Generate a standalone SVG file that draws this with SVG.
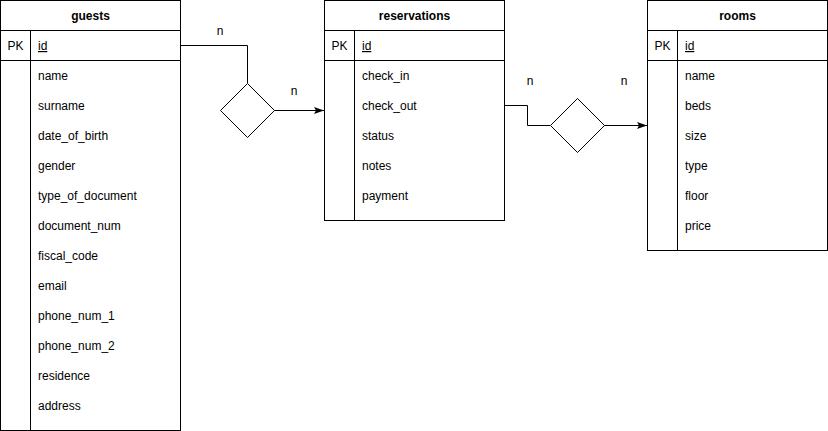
<svg xmlns="http://www.w3.org/2000/svg" width="828" height="431" viewBox="0 0 828 431">
<style>
.box{fill:#fff;stroke:#000;stroke-width:1}
.ln{stroke:#000;stroke-width:1;fill:none}
text{font-family:"Liberation Sans",Arial,sans-serif;font-size:12px;fill:#000}
.h{font-weight:bold;text-anchor:middle}
.pk{text-anchor:middle}
.id{text-decoration:underline}
.lbl{text-anchor:middle}
</style>
<defs>
<marker id="arr" viewBox="0 0 10 10" refX="10" refY="5" markerWidth="10" markerHeight="10" markerUnits="userSpaceOnUse" orient="auto">
<path d="M0,1.5 L10,5 L0,8.5 L2,5 Z" fill="#000"/>
</marker>
</defs>
<rect width="828" height="431" fill="#fff"/>
<g id="connectors">
<path class="ln" d="M180.5,45.5 H247.5 V83"/>
<path class="ln" d="M274,110.5 H324" marker-end="url(#arr)"/>
<path class="ln" d="M504.5,105.5 H527.5 V125.5 H550"/>
<path class="ln" d="M604,125.5 H647" marker-end="url(#arr)"/>
<text class="lbl" x="220" y="35">n</text>
<text class="lbl" x="294" y="95">n</text>
<text class="lbl" x="530" y="85">n</text>
<text class="lbl" x="624" y="85">n</text>
</g>
<g id="rel1">
<path class="box" d="M247.5,83.5 L274.5,110.5 L247.5,137.5 L220.5,110.5 Z"/>
</g>
<g id="rel2">
<path class="box" d="M577.5,98.5 L604.5,125.5 L577.5,152.5 L550.5,125.5 Z"/>
</g>
<g id="guests">
<rect class="box" x="0.5" y="0.5" width="180" height="430"/>
<path class="ln" d="M0.5,30.5 H180.5 M0.5,60.5 H180.5 M30.5,30.5 V430.5"/>
<text class="h" x="90.5" y="20">guests</text>
<text class="pk" x="15.5" y="50">PK</text>
<text class="id" x="38" y="50">id</text>
<text x="38" y="80">name</text>
<text x="38" y="110">surname</text>
<text x="38" y="140">date_of_birth</text>
<text x="38" y="170">gender</text>
<text x="38" y="200">type_of_document</text>
<text x="38" y="230">document_num</text>
<text x="38" y="260">fiscal_code</text>
<text x="38" y="290">email</text>
<text x="38" y="320">phone_num_1</text>
<text x="38" y="350">phone_num_2</text>
<text x="38" y="380">residence</text>
<text x="38" y="410">address</text>
</g>
<g id="reservations">
<rect class="box" x="324.5" y="0.5" width="180" height="220"/>
<path class="ln" d="M324.5,30.5 H504.5 M324.5,60.5 H504.5 M354.5,30.5 V220.5"/>
<text class="h" x="414.5" y="20">reservations</text>
<text class="pk" x="339.5" y="50">PK</text>
<text class="id" x="362" y="50">id</text>
<text x="362" y="80">check_in</text>
<text x="362" y="110">check_out</text>
<text x="362" y="140">status</text>
<text x="362" y="170">notes</text>
<text x="362" y="200">payment</text>
</g>
<g id="rooms">
<rect class="box" x="647.5" y="0.5" width="180" height="250"/>
<path class="ln" d="M647.5,30.5 H827.5 M647.5,60.5 H827.5 M677.5,30.5 V250.5"/>
<text class="h" x="737.5" y="20">rooms</text>
<text class="pk" x="662.5" y="50">PK</text>
<text class="id" x="685" y="50">id</text>
<text x="685" y="80">name</text>
<text x="685" y="110">beds</text>
<text x="685" y="140">size</text>
<text x="685" y="170">type</text>
<text x="685" y="200">floor</text>
<text x="685" y="230">price</text>
</g>
</svg>
